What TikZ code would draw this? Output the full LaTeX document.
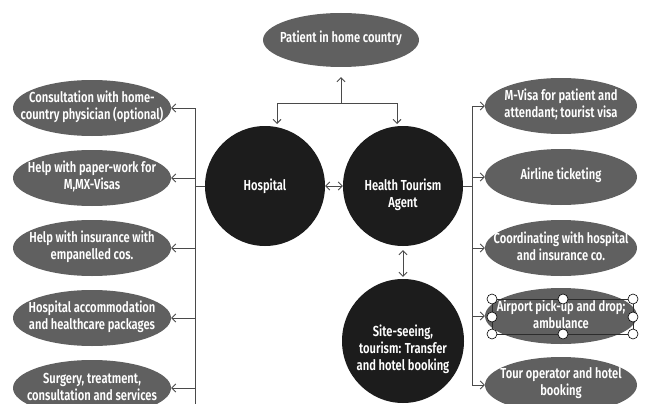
\documentclass[tikz,border=0pt]{standalone}
\usepackage{fontspec}
\usetikzlibrary{shapes.geometric,arrows.meta,calc}
\newfontfamily\labfont{Fira Sans SemiBold}[FakeStretch=0.77]
\definecolor{ellgray}{HTML}{606060}
\definecolor{circblack}{HTML}{1C1C1C}
\definecolor{linegray}{HTML}{4A4A4A}
\tikzset{
  lab/.style={text=white, align=center, font=\labfont\fontsize{14.5}{17}\selectfont, inner sep=0pt},
  gell/.style={ellipse, fill=ellgray, minimum width=158pt, minimum height=56pt, inner sep=0pt, label={[lab, yshift=1.5pt]center:#1}},
  rell/.style={gell={#1}, minimum width=152pt},
  bcirc/.style={circle, fill=circblack, minimum size=120pt, inner sep=0pt, label={[lab]center:#1}},
  conn/.style={draw=linegray, line width=0.9pt},
  arr/.style={conn, -{Straight Barb[length=4pt,width=8pt]}},
  darr/.style={conn, {Straight Barb[length=4pt,width=8pt]}-{Straight Barb[length=4pt,width=8pt]}},
  handle/.style={circle, draw=black, fill=white, line width=0.6pt, minimum size=10pt, inner sep=0pt},
}
\begin{document}
\begin{tikzpicture}[x=1pt,y=-1pt]
\useasboundingbox (0,0) rectangle (645,404);
\fill[white] (0,0) rectangle (645,404);
% top
\node[gell={Patient in home country}, minimum width=156pt, minimum height=54pt] (pat) at (341,40) {};
% centre circles
\node[bcirc={Hospital}] (hosp) at (265,186) {};
\node[bcirc={}] (agent) at (403,186) {};
\node[lab] (agenttxt) at (403,195) {Health Tourism\\Agent};
\node[ellipse, fill=circblack, minimum width=122pt, minimum height=124pt, inner sep=0pt] (site) at (403,341) {};
\node[lab] (sitetxt) at (403,349) {Site-seeing,\\tourism: Transfer\\and hotel booking};
% left ellipses
\node[gell={Consultation with home-\\country physician (optional)}] (l1) at (92,108) {};
\node[gell={Help with paper-work for\\M,MX-Visas}] (l2) at (92,178) {};
\node[gell={Help with insurance with\\empanelled cos.}] (l3) at (92,248) {};
\node[gell={Hospital accommodation\\and healthcare packages}] (l4) at (92,318) {};
\node[gell={Surgery, treatment,\\consultation and services}] (l5) at (92,388) {};
% right ellipses
\node[rell={M-Visa for patient and\\attendant; tourist visa}] (r1) at (561,106) {};
\node[rell={Airline ticketing}] (r2) at (561,177) {};
\node[rell={Coordinating with hospital\\and insurance co.}] (r3) at (561,248) {};
\node[rell={Airport pick-up and drop;\\ambulance}] (r4) at (561,316) {};
\node[rell={Tour operator and hotel\\booking}] (r5) at (561,385) {};
% top connectors
\coordinate (pj) at (341,103);
\coordinate (hl) at (277,124);
\coordinate (al) at (397,124);
\draw[arr] (pj) -- ([yshift=-10pt]pat.south);
\draw[arr] (pj) -| (hl);
\draw[arr] (pj) -| (al);
\draw[darr] (hosp.east) -- (agent.west);
\draw[darr] ([yshift=-4pt]agent.south) -- ([yshift=2pt]site.north);
% left bus
\coordinate (lb) at (195,108);
\coordinate (lbbot) at (195,404);
\draw[conn] (lb) -- (lbbot);
\draw[conn] (hosp.west) -- (hosp.west -| lb);
\foreach \n in {l1,l2,l3,l4,l5} \draw[arr] (\n.east -| lb) -- (\n.east);
% right bus
\coordinate (rb) at (472,106);
\draw[conn] (r1.west -| rb) -- (r5.west -| rb);
\draw[conn] (agent.east) -- (agent.east -| rb);
\foreach \n in {r1,r2,r3,r4,r5} \draw[arr] (\n.west -| rb) -- (\n.west);
% selection handles on r4
\draw[draw=linegray!60!black, line width=0.6pt] (492,299) rectangle (633,334);
\foreach \i/\p in {1/{(492,299)},2/{(563,299)},3/{(633,299)},4/{(492,317)},5/{(633,317)},6/{(492,334)},7/{(563,334)},8/{(633,334)}}
  \node[handle] (h\i) at \p {};
\end{tikzpicture}
\end{document}
